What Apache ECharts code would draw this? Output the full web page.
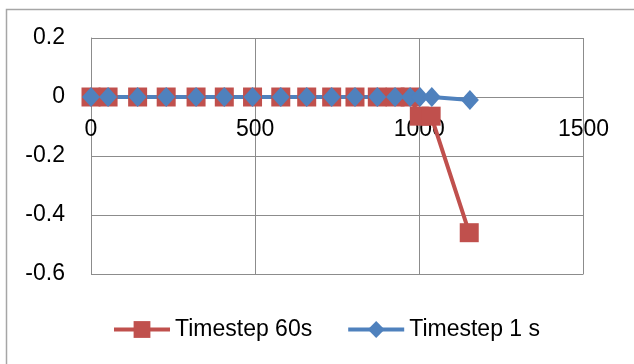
<!DOCTYPE html>
<html>
<head>
<meta charset="utf-8">
<script src="https://cdn.jsdelivr.net/npm/echarts@6/dist/echarts.min.js"></script>
<style>
  html, body { margin: 0; padding: 0; background: #fff; }
  #chart { width: 634px; height: 364px; }
</style>
</head>
<body>
<div id="chart"></div>
<script>
// Time (x) and value (y) for each run
const step60X = [0, 52, 142, 229, 320, 406, 492, 578, 657, 733, 804, 872, 926, 972, 1000, 1036, 1152];
const step60Y = [0, 0, 0, 0, 0, 0, 0, 0, 0, 0, 0, 0, 0, 0, -0.065, -0.065, -0.46];
const step1X = [0, 52, 142, 229, 320, 406, 492, 578, 657, 733, 804, 872, 926, 972, 1002, 1038, 1154];
const step1Y = [0, 0, 0, 0, 0, 0, 0, 0, 0, 0, 0, 0, 0, 0, 0, 0, -0.01];
const seriesNames = ['Timestep 60s', 'Timestep 1 s'];
const yMin = -0.6, yMax = 0.2;

const pairs = (xs, ys) => xs.map((x, i) => [x, ys[i]]);

const gridGray = '#8c8c8c';
const font = 'Liberation Sans';
const fs = 23;

// plot rectangle
const gridTop = 38, gridBottom = 90, chartH = 364;
const plotH = chartH - gridTop - gridBottom;
// the x axis sits on the y = 0 line
const xAxisOffset = -plotH * (0 - yMin) / (yMax - yMin);

const chart = echarts.init(document.getElementById('chart'));
chart.setOption({
  animation: false,
  backgroundColor: '#fff',
  textStyle: { fontFamily: font },
  graphic: [{
    type: 'rect',
    shape: { x: 6.5, y: 9.5, width: 800, height: 600 },
    style: { fill: 'none', stroke: '#a6a6a6', lineWidth: 1.5 },
    silent: true
  }],
  grid: { left: 91, right: 50.5, top: gridTop, bottom: gridBottom, containLabel: false },
  xAxis: {
    type: 'value',
    position: 'bottom',
    offset: xAxisOffset,
    min: 0, max: 1500, interval: 500,
    axisLine: { show: true, onZero: false, lineStyle: { color: gridGray, width: 1 } },
    axisTick: { show: false },
    axisLabel: {
      color: '#000', fontSize: fs, fontFamily: font, margin: 21,
      formatter: v => String(v)
    },
    splitLine: { show: true, lineStyle: { color: gridGray, width: 1 } }
  },
  yAxis: {
    type: 'value',
    min: yMin, max: yMax, interval: 0.2,
    axisLine: { show: true, onZero: false, lineStyle: { color: gridGray, width: 1 } },
    axisTick: { show: false },
    axisLabel: {
      color: '#000', fontSize: fs, fontFamily: font, margin: 26,
      formatter: v => String(Math.round(v * 10) / 10)
    },
    splitLine: { show: true, lineStyle: { color: gridGray, width: 1 } }
  },
  legend: {
    bottom: 18,
    left: 107,
    itemWidth: 56,
    itemHeight: 21,
    itemGap: 34,
    lineStyle: { width: 4 },
    textStyle: { fontSize: fs, fontFamily: font, color: '#000' },
    data: seriesNames
  },
  series: [
    {
      name: seriesNames[0],
      type: 'line',
      data: pairs(step60X, step60Y),
      symbol: 'rect',
      symbolSize: 19,
      color: '#C0504D',
      itemStyle: { color: '#C0504D' },
      lineStyle: { color: '#C0504D', width: 4 }
    },
    {
      name: seriesNames[1],
      type: 'line',
      data: pairs(step1X, step1Y),
      symbol: 'diamond',
      symbolSize: [18, 20],
      color: '#4F81BD',
      itemStyle: { color: '#4F81BD' },
      lineStyle: { color: '#4F81BD', width: 4 }
    }
  ]
});
</script>
</body>
</html>
